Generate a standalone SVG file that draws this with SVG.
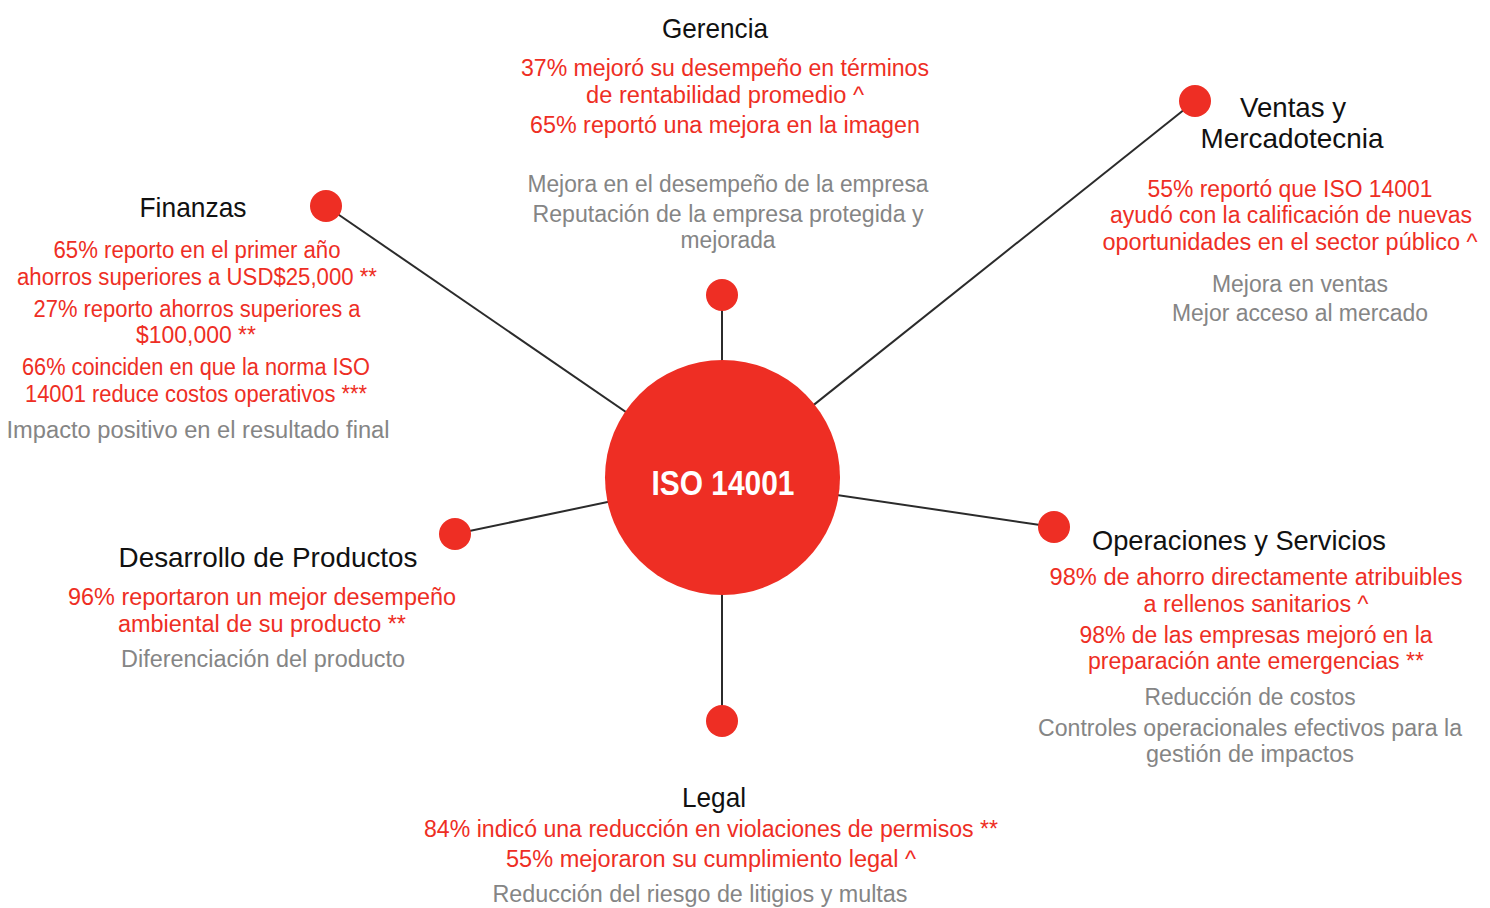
<svg xmlns="http://www.w3.org/2000/svg" width="1490" height="908" viewBox="0 0 1490 908">
<style>
text{font-family:"Liberation Sans",Arial,sans-serif;text-anchor:middle}
.t{font-size:28px;fill:#111}
.r{font-size:23px;fill:#ee2e24}
.g{font-size:23px;fill:#858585}
.dot{fill:#ee2e24}
.ln{stroke:#2b2b2b;stroke-width:2;fill:none}
</style>
<rect width="1490" height="908" fill="#fff"/>
<g id="connectors">
<line class="ln" x1="326" y1="206" x2="722" y2="478"/>
<line class="ln" x1="1195" y1="101" x2="722" y2="478"/>
<line class="ln" x1="1054" y1="527" x2="722" y2="478"/>
<line class="ln" x1="455" y1="534" x2="722" y2="478"/>
<line class="ln" x1="722" y1="295" x2="722" y2="478"/>
<line class="ln" x1="722" y1="721" x2="722" y2="478"/>
</g>
<g id="center">
<circle cx="722.5" cy="477.5" r="117.5" fill="#ee2e24"/>
<text x="723" y="495" style="font-size:35px;font-weight:bold;fill:#fff" textLength="143" lengthAdjust="spacingAndGlyphs">ISO 14001</text>
</g>
<g id="gerencia">
<circle class="dot" cx="722" cy="295" r="16"/>
<text class="t" x="715" y="38" textLength="106" lengthAdjust="spacingAndGlyphs">Gerencia</text>
<text class="r" x="725" y="76" textLength="408" lengthAdjust="spacingAndGlyphs">37% mejoró su desempeño en términos</text>
<text class="r" x="725" y="103" textLength="278" lengthAdjust="spacingAndGlyphs">de rentabilidad promedio ^</text>
<text class="r" x="725" y="133" textLength="390" lengthAdjust="spacingAndGlyphs">65% reportó una mejora en la imagen</text>
<text class="g" x="728" y="192" textLength="401" lengthAdjust="spacingAndGlyphs">Mejora en el desempeño de la empresa</text>
<text class="g" x="728" y="222" textLength="391" lengthAdjust="spacingAndGlyphs">Reputación de la empresa protegida y</text>
<text class="g" x="728" y="248" textLength="95" lengthAdjust="spacingAndGlyphs">mejorada</text>
</g>
<g id="finanzas">
<circle class="dot" cx="326" cy="206" r="16"/>
<text class="t" x="193" y="217" textLength="107" lengthAdjust="spacingAndGlyphs">Finanzas</text>
<text class="r" x="197" y="258" textLength="287" lengthAdjust="spacingAndGlyphs">65% reporto en el primer año</text>
<text class="r" x="197" y="285" textLength="360" lengthAdjust="spacingAndGlyphs">ahorros superiores a USD$25,000 **</text>
<text class="r" x="197" y="317" textLength="327" lengthAdjust="spacingAndGlyphs">27% reporto ahorros superiores a</text>
<text class="r" x="196" y="343" textLength="120" lengthAdjust="spacingAndGlyphs">$100,000 **</text>
<text class="r" x="196" y="375" textLength="348" lengthAdjust="spacingAndGlyphs">66% coinciden en que la norma ISO</text>
<text class="r" x="196" y="402" textLength="342" lengthAdjust="spacingAndGlyphs">14001 reduce costos operativos ***</text>
<text class="g" x="198" y="438" textLength="383" lengthAdjust="spacingAndGlyphs">Impacto positivo en el resultado final</text>
</g>
<g id="ventas">
<circle class="dot" cx="1195" cy="101" r="16"/>
<text class="t" x="1293" y="117" textLength="106" lengthAdjust="spacingAndGlyphs">Ventas y</text>
<text class="t" x="1292" y="148" textLength="183" lengthAdjust="spacingAndGlyphs">Mercadotecnia</text>
<text class="r" x="1290" y="197" textLength="285" lengthAdjust="spacingAndGlyphs">55% reportó que ISO 14001</text>
<text class="r" x="1291" y="223" textLength="362" lengthAdjust="spacingAndGlyphs">ayudó con la calificación de nuevas</text>
<text class="r" x="1290" y="250" textLength="375" lengthAdjust="spacingAndGlyphs">oportunidades en el sector público ^</text>
<text class="g" x="1300" y="292" textLength="176" lengthAdjust="spacingAndGlyphs">Mejora en ventas</text>
<text class="g" x="1300" y="321" textLength="256" lengthAdjust="spacingAndGlyphs">Mejor acceso al mercado</text>
</g>
<g id="operaciones">
<circle class="dot" cx="1054" cy="527" r="16"/>
<text class="t" x="1239" y="550" textLength="294" lengthAdjust="spacingAndGlyphs">Operaciones y Servicios</text>
<text class="r" x="1256" y="585" textLength="413" lengthAdjust="spacingAndGlyphs">98% de ahorro directamente atribuibles</text>
<text class="r" x="1256" y="612" textLength="225" lengthAdjust="spacingAndGlyphs">a rellenos sanitarios ^</text>
<text class="r" x="1256" y="643" textLength="353" lengthAdjust="spacingAndGlyphs">98% de las empresas mejoró en la</text>
<text class="r" x="1256" y="669" textLength="336" lengthAdjust="spacingAndGlyphs">preparación ante emergencias **</text>
<text class="g" x="1250" y="705" textLength="211" lengthAdjust="spacingAndGlyphs">Reducción de costos</text>
<text class="g" x="1250" y="736" textLength="424" lengthAdjust="spacingAndGlyphs">Controles operacionales efectivos para la</text>
<text class="g" x="1250" y="762" textLength="208" lengthAdjust="spacingAndGlyphs">gestión de impactos</text>
</g>
<g id="desarrollo">
<circle class="dot" cx="455" cy="534" r="16"/>
<text class="t" x="268" y="567" textLength="299" lengthAdjust="spacingAndGlyphs">Desarrollo de Productos</text>
<text class="r" x="262" y="605" textLength="388" lengthAdjust="spacingAndGlyphs">96% reportaron un mejor desempeño</text>
<text class="r" x="262" y="632" textLength="288" lengthAdjust="spacingAndGlyphs">ambiental de su producto **</text>
<text class="g" x="263" y="667" textLength="284" lengthAdjust="spacingAndGlyphs">Diferenciación del producto</text>
</g>
<g id="legal">
<circle class="dot" cx="722" cy="721" r="16"/>
<text class="t" x="714" y="807" textLength="64" lengthAdjust="spacingAndGlyphs">Legal</text>
<text class="r" x="711" y="837" textLength="574" lengthAdjust="spacingAndGlyphs">84% indicó una reducción en violaciones de permisos **</text>
<text class="r" x="711" y="867" textLength="410" lengthAdjust="spacingAndGlyphs">55% mejoraron su cumplimiento legal ^</text>
<text class="g" x="700" y="902" textLength="415" lengthAdjust="spacingAndGlyphs">Reducción del riesgo de litigios y multas</text>
</g>
</svg>
